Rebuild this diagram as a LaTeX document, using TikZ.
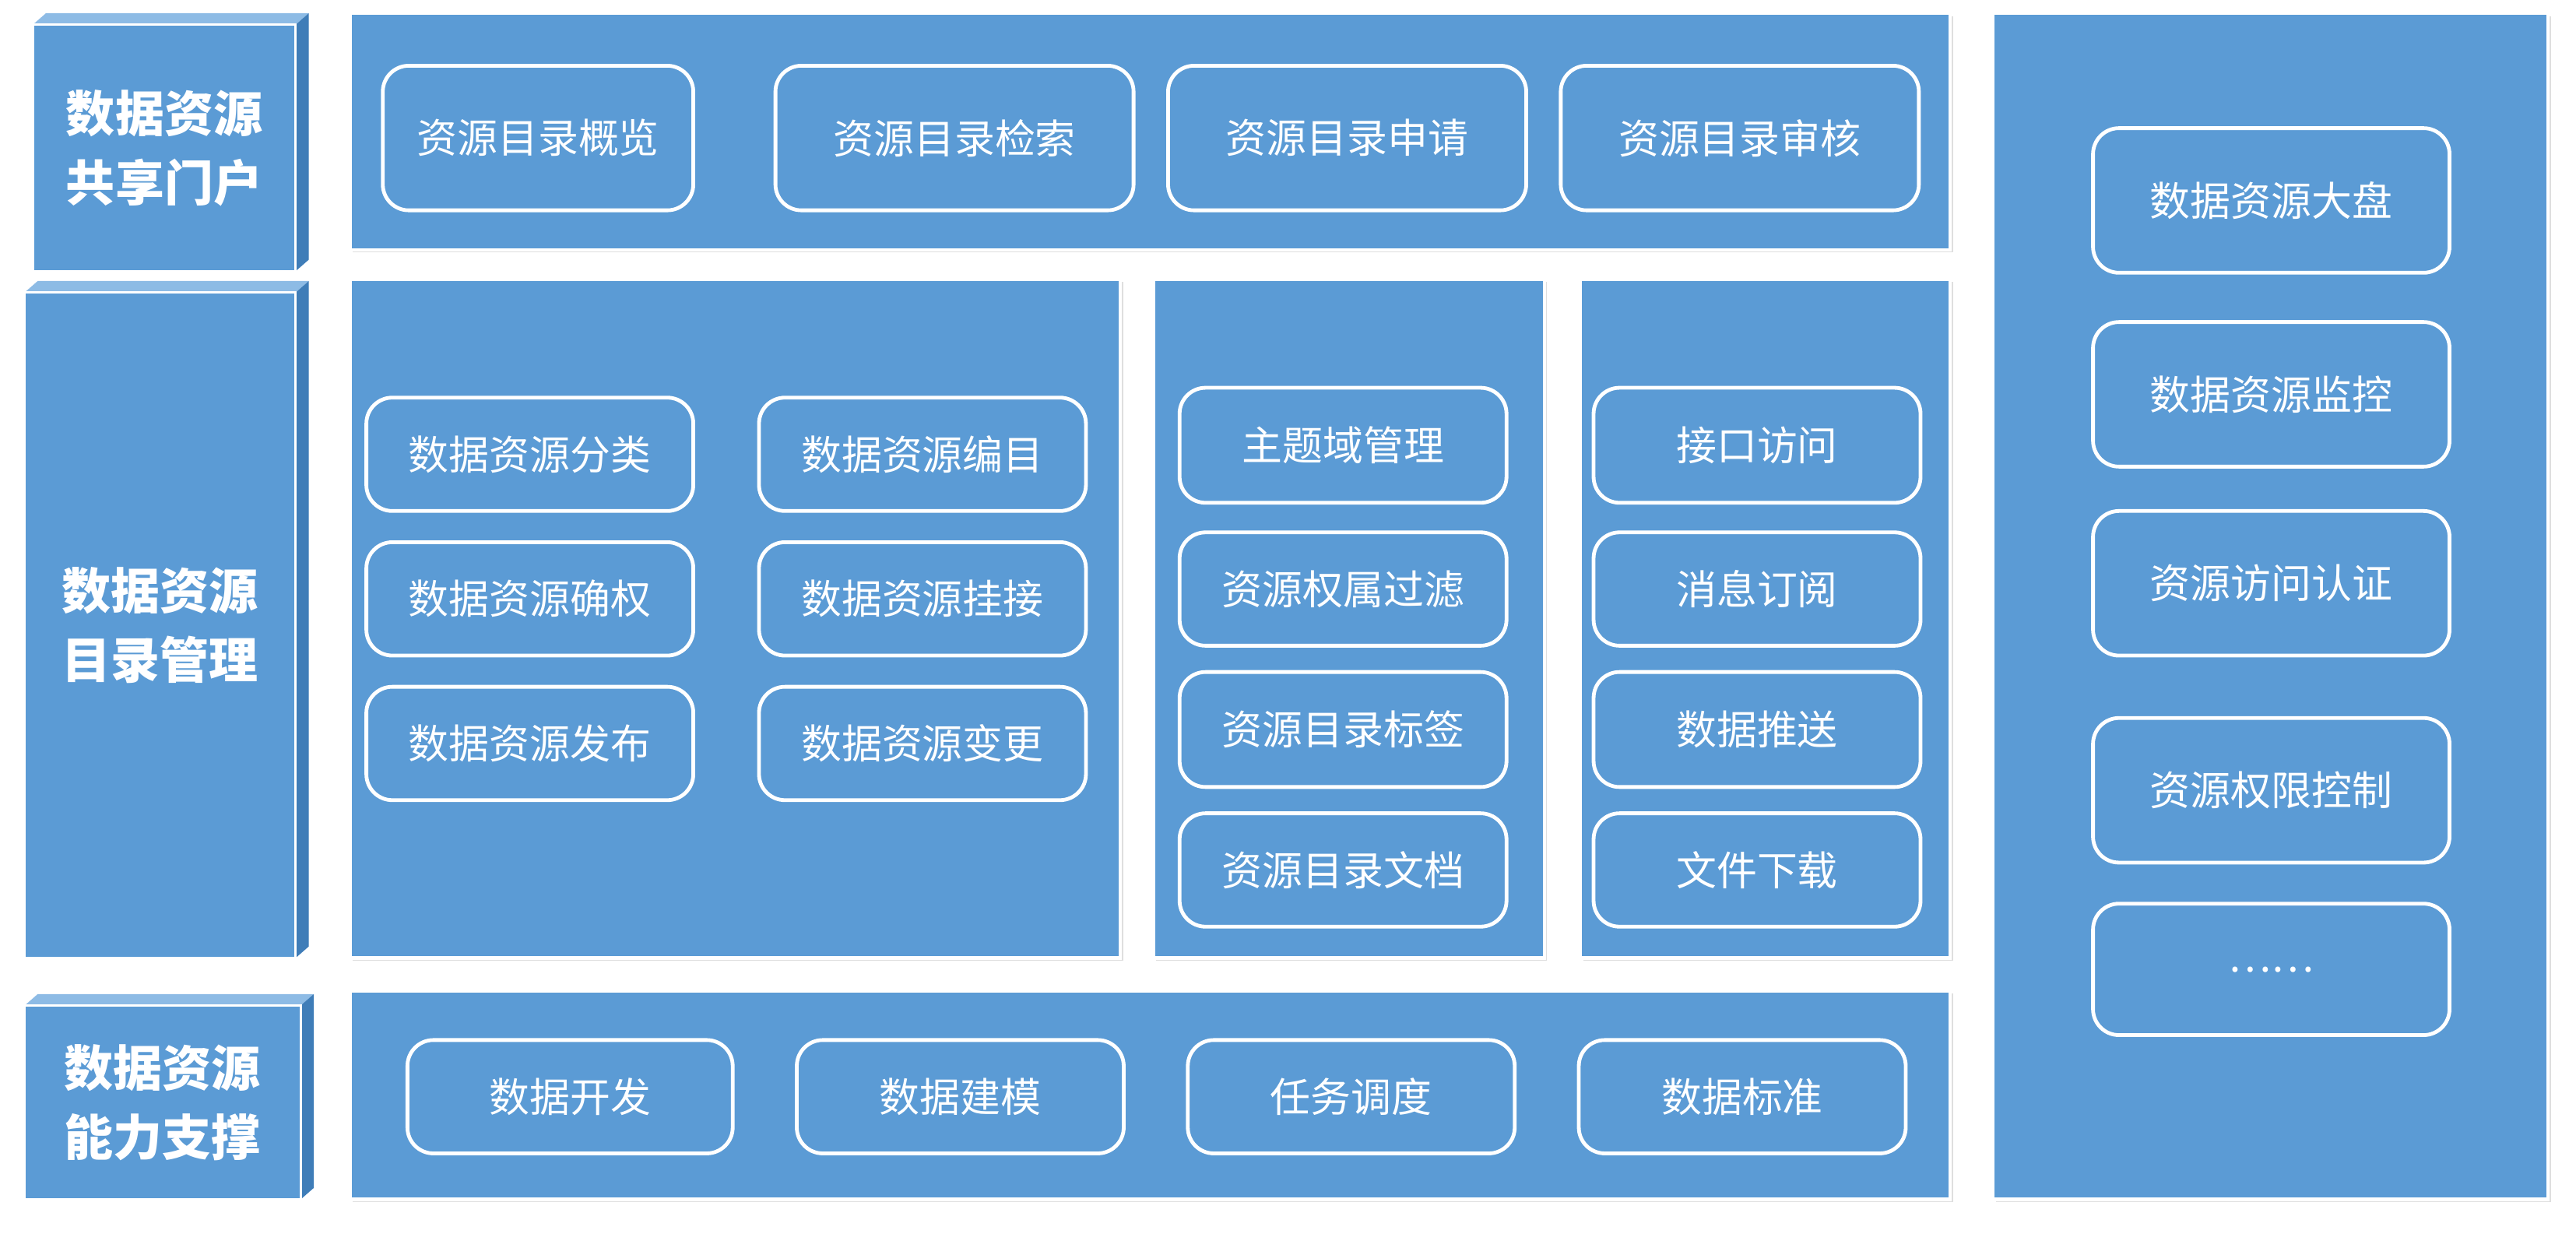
\documentclass[tikz,border=0pt]{standalone}
\usepackage{fontspec}
\newfontfamily\cjk{Noto Sans CJK SC}
\usetikzlibrary{shadows}
\definecolor{bb}{HTML}{5B9BD5}
\definecolor{bbd}{HTML}{3F7DB8}
\definecolor{bbl}{HTML}{8DBBE5}
\begin{document}
\begin{tikzpicture}[x=0.02cm,y=-0.02cm,
 panel/.style={fill=bb,draw=white,line width=1.2pt,drop shadow={opacity=0.25,shadow xshift=1pt,shadow yshift=-1pt}},
 item/.style={draw=white,line width=1.3pt,rounded corners=9pt,fill=bb,text=white,font=\cjk\fontsize{14}{16}\selectfont},
 lab/.style={text=white,font=\cjk\bfseries\fontsize{17}{24}\selectfont,align=center}]
\useasboundingbox (0,0) rectangle (1568,755);
% 3D label boxes
\foreach \x/\y/\X/\Y/\n/\t in {20/15/180/165/la/{数据资源\\共享门户},15/178/180/583/lb/{数据资源\\目录管理},15/612/183/730/lc/{数据资源\\能力支撑}}{
 \fill[bbl] (\x,\y) -- (\x+8,\y-7) -- (\X+8,\y-7) -- (\X,\y) -- cycle;
 \fill[bbd] (\X,\y) -- (\X+8,\y-7) -- (\X+8,\Y-7) -- (\X,\Y) -- cycle;
 \fill[bb,draw=white,line width=0.8pt] (\x,\y) rectangle (\X,\Y);
 \node[lab] (\n) at ({(\x+\X)/2},{(\y+\Y)/2}) {\t};
}
% panels
\fill[panel] (213,8) rectangle (1187,152);
\fill[panel] (213,170) rectangle (682,583);
\fill[panel] (702,170) rectangle (940,583);
\fill[panel] (962,170) rectangle (1187,583);
\fill[panel] (213,603) rectangle (1187,730);
\fill[panel] (1213,8) rectangle (1551,730);
% items
\newcommand\itm[6]{\node[item,minimum width={(#3-#1)*0.02cm},minimum height={(#4-#2)*0.02cm}] (#5) at ({(#1+#3)/2},{(#2+#4)/2}) {#6};}
\itm{233}{40}{422}{128}{t1}{资源目录概览}
\itm{472}{40}{690}{128}{t2}{资源目录检索}
\itm{711}{40}{929}{128}{t3}{资源目录申请}
\itm{950}{40}{1168}{128}{t4}{资源目录审核}
\itm{223}{242}{422}{311}{m1}{数据资源分类}
\itm{223}{330}{422}{399}{m2}{数据资源确权}
\itm{223}{418}{422}{487}{m3}{数据资源发布}
\itm{462}{242}{661}{311}{m4}{数据资源编目}
\itm{462}{330}{661}{399}{m5}{数据资源挂接}
\itm{462}{418}{661}{487}{m6}{数据资源变更}
\itm{718}{236}{917}{306}{c1}{主题域管理}
\itm{718}{324}{917}{393}{c2}{资源权属过滤}
\itm{718}{409}{917}{479}{c3}{资源目录标签}
\itm{718}{495}{917}{564}{c4}{资源目录文档}
\itm{970}{236}{1169}{306}{d1}{接口访问}
\itm{970}{324}{1169}{393}{d2}{消息订阅}
\itm{970}{409}{1169}{479}{d3}{数据推送}
\itm{970}{495}{1169}{564}{d4}{文件下载}
\itm{248}{633}{446}{702}{b1}{数据开发}
\itm{485}{633}{684}{702}{b2}{数据建模}
\itm{723}{633}{922}{702}{b3}{任务调度}
\itm{961}{633}{1160}{702}{b4}{数据标准}
\itm{1274}{78}{1491}{166}{r1}{数据资源大盘}
\itm{1274}{196}{1491}{284}{r2}{数据资源监控}
\itm{1274}{311}{1491}{399}{r3}{资源访问认证}
\itm{1274}{437}{1491}{525}{r4}{资源权限控制}
\itm{1274}{550}{1491}{630}{r5}{……}
\end{tikzpicture}
\end{document}
